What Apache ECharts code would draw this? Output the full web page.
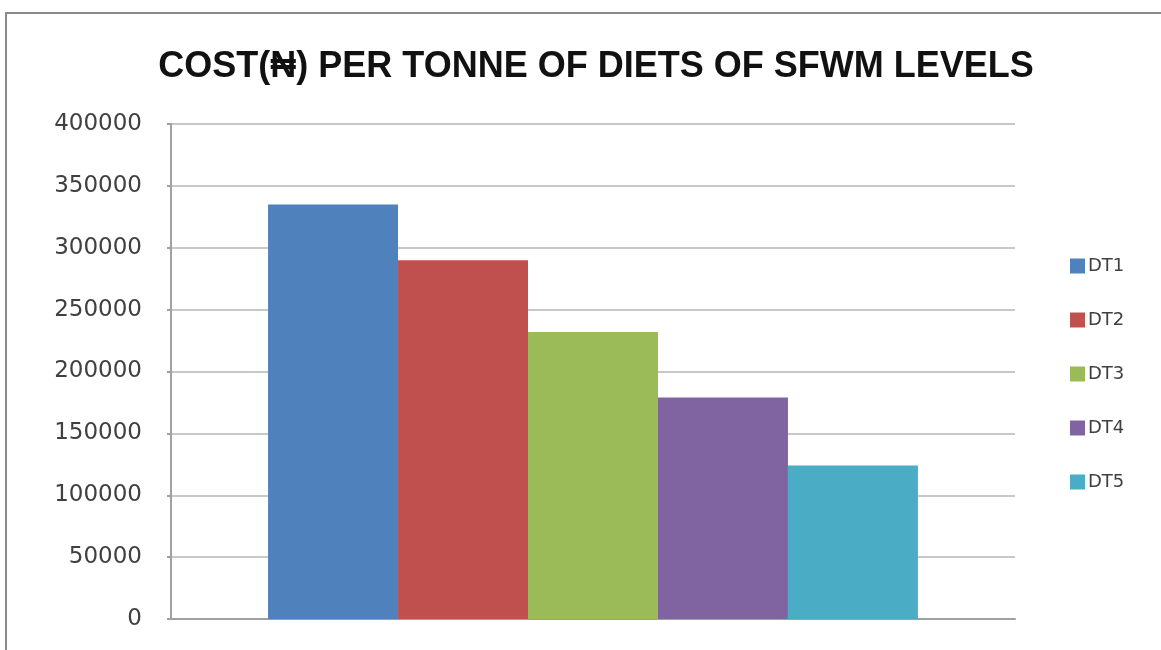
<!DOCTYPE html>
<html>
<head>
<meta charset="utf-8">
<script src="https://cdn.jsdelivr.net/npm/echarts@6/dist/echarts.min.js"></script>
<style>html,body{margin:0;padding:0;background:#fff;}#c{width:1161px;height:650px;}</style>
</head>
<body>
<div id="c"></div>
<script>
var categories = [''];
var seriesNames = ['DT1', 'DT2', 'DT3', 'DT4', 'DT5'];
var seriesValues = [335000, 290000, 232000, 179000, 124000];
var seriesColors = ['#4F81BD', '#C0504D', '#9BBB59', '#8064A2', '#4BACC6'];
var yTicks = { min: 0, max: 400000, interval: 50000 };

var chart = echarts.init(document.getElementById('c'));
var series = seriesNames.map(function (n, i) {
  return {
    name: n,
    type: 'bar',
    data: [seriesValues[i]],
    itemStyle: { color: seriesColors[i] },
    barGap: '0%',
    barCategoryGap: '23%'
  };
});
chart.setOption({
  animation: false,
  backgroundColor: '#fff',
  title: {
    text: 'COST(\u20A6) PER TONNE OF DIETS OF SFWM LEVELS',
    left: 591, top: 44, textAlign: 'center',
    textStyle: { fontFamily: 'Liberation Sans, DejaVu Sans', fontWeight: 'bold', fontSize: 36, color: '#111' }
  },
  legend: {
    orient: 'vertical', left: 1065, top: 252,
    itemWidth: 15, itemHeight: 15, itemGap: 36, icon: 'rect',
    data: seriesNames,
    textStyle: { fontFamily: 'DejaVu Sans', fontSize: 18, color: '#404040', padding: [0, 0, 0, -2] }
  },
  grid: { left: 171, right: 146, top: 124, bottom: 31, containLabel: false },
  xAxis: {
    type: 'category', data: categories,
    axisLine: { lineStyle: { color: '#a0a0a0', width: 2 } },
    axisTick: { show: false }, axisLabel: { show: false }
  },
  yAxis: {
    type: 'value', min: yTicks.min, max: yTicks.max, interval: yTicks.interval,
    axisLine: { show: true, lineStyle: { color: '#a0a0a0', width: 2 } },
    axisTick: { show: true, length: 4, lineStyle: { color: '#a0a0a0', width: 2 } },
    splitLine: { lineStyle: { color: '#c8c8c8', width: 2 } },
    axisLabel: { margin: 29, fontFamily: 'DejaVu Sans', fontSize: 23, color: '#404040',
      formatter: function (v) { return String(v); } }
  },
  graphic: [{
    type: 'rect', shape: { x: 6, y: 13, width: 1170, height: 660 },
    style: { fill: 'none', stroke: '#8a8a8a', lineWidth: 2 }, silent: true
  }],
  series: series
});
</script>
</body>
</html>
